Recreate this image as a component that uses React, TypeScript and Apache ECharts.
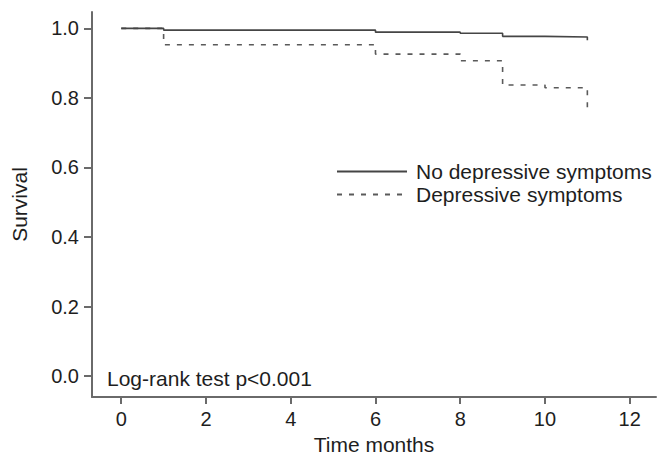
import React, { useEffect, useRef } from "react";
import * as echarts from "echarts";

const seriesNames = ["No depressive symptoms", "Depressive symptoms"];
const noDepTimes = [0, 1, 6, 8, 9, 10, 11];
const noDepSurvival = [1.0, 0.995, 0.989, 0.986, 0.977, 0.975, 0.966];
const depTimes = [0, 1, 6, 8, 9, 10, 11];
const depSurvival = [1.0, 0.953, 0.926, 0.907, 0.837, 0.829, 0.762];
const xTicks = [0, 2, 4, 6, 8, 10, 12];
const yTicks = [0, 0.2, 0.4, 0.6, 0.8, 1.0];
const annotation = "Log-rank test p<0.001";

const FONT = "'Liberation Sans', Arial, Helvetica, sans-serif";
const TEXT = "#1e1e1e";
const AXIS = "#6a6a6a";

export default function App() {
  const ref = useRef<HTMLDivElement>(null);
  useEffect(() => {
    if (!ref.current) return;
    const chart = echarts.init(ref.current, undefined, { renderer: "svg" });
    const toPairs = (t: number[], s: number[]) => t.map((v, i) => [v, s[i]]);
    chart.setOption({
      animation: false,
      textStyle: { fontFamily: FONT },
      grid: { left: 92, right: 1, top: 12, bottom: 58, containLabel: false },
      legend: {
        orient: "vertical",
        left: 336,
        top: 161,
        padding: 0,
        itemWidth: 70,
        itemHeight: 20,
        itemGap: 2,
        itemStyle: { opacity: 0 },
        textStyle: { fontSize: 21, color: TEXT, fontFamily: FONT, padding: [0, 0, 0, 4] },
        data: seriesNames,
      },
      xAxis: {
        type: "value",
        min: -0.69,
        max: 12.62,
        name: "Time months",
        nameLocation: "middle",
        nameGap: 37,
        nameTextStyle: { fontSize: 21, color: TEXT, fontFamily: FONT },
        splitLine: { show: false },
        axisLine: { onZero: false, lineStyle: { color: AXIS, width: 2 } },
        axisTick: { customValues: xTicks, length: 7, lineStyle: { color: AXIS, width: 2 } },
        axisLabel: {
          customValues: xTicks,
          margin: 12,
          fontSize: 20,
          color: TEXT,
          fontFamily: FONT,
        },
      },
      yAxis: {
        type: "value",
        min: -0.06,
        max: 1.047,
        name: "Survival",
        nameLocation: "middle",
        nameGap: 62,
        nameTextStyle: { fontSize: 21, color: TEXT, fontFamily: FONT },
        splitLine: { show: false },
        axisLine: { show: true, onZero: false, lineStyle: { color: AXIS, width: 2 } },
        axisTick: { show: true, customValues: yTicks, length: 8, lineStyle: { color: AXIS, width: 2 } },
        axisLabel: {
          customValues: yTicks,
          margin: 13,
          fontSize: 20,
          color: TEXT,
          fontFamily: FONT,
          formatter: (v: number) => v.toFixed(1),
        },
      },
      graphic: [
        {
          type: "text",
          left: 107,
          top: 368,
          style: { text: annotation, fontSize: 21, fill: TEXT, fontFamily: FONT },
        },
      ],
      series: [
        {
          name: seriesNames[0],
          type: "line",
          step: "end",
          symbol: "none",
          data: toPairs(noDepTimes, noDepSurvival),
          lineStyle: { color: "#454545", width: 1.6, type: "solid" },
          itemStyle: { color: "#454545" },
          z: 3,
        },
        {
          name: seriesNames[1],
          type: "line",
          step: "end",
          symbol: "none",
          data: toPairs(depTimes, depSurvival),
          lineStyle: { color: "#5a5a5a", width: 1.6, type: [5, 7] },
          itemStyle: { color: "#5a5a5a" },
          z: 2,
        },
      ],
    });
    return () => chart.dispose();
  }, []);
  return (
    <div
      ref={ref}
      style={{ position: "absolute", left: 0, top: 0, width: 657, height: 460, background: "#fff" }}
    />
  );
}
